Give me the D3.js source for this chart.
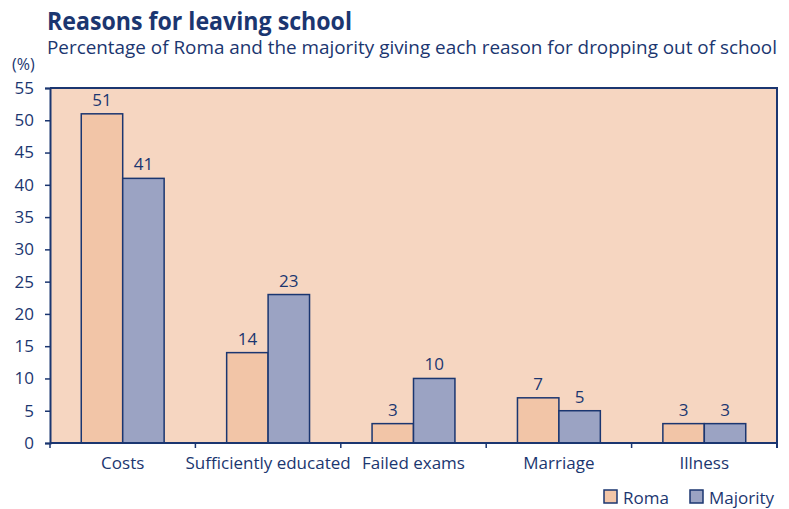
<!DOCTYPE html>
<html>
<head>
<meta charset="utf-8">
<script src="https://cdn.jsdelivr.net/npm/d3@7"></script>
<style>
  html, body { margin: 0; padding: 0; background: #ffffff; }
  svg { display: block; }
  text { font-family: "Open Sans", "Noto Sans", sans-serif; fill: #1b3670; }
</style>
</head>
<body>
<svg id="chart" width="789" height="509"></svg>
<script>
// Reasons for dropping out of school, % giving each reason
const categories = ["Costs", "Sufficiently educated", "Failed exams", "Marriage", "Illness"];
const romaValues = [51, 14, 3, 7, 3];
const majorityValues = [41, 23, 10, 5, 3];
const seriesNames = ["Roma", "Majority"];
const yTicks = [0, 5, 10, 15, 20, 25, 30, 35, 40, 45, 50, 55];

const colors = { Roma: "#f2c5a7", Majority: "#9ba3c3" };
const ink = "#1b3670";

const svg = d3.select("#chart");
const plot = { left: 50, right: 777, top: 88, bottom: 443 };

const x = d3.scaleBand().domain(categories).range([plot.left, plot.right]).padding(0);
const y = d3.scaleLinear().domain([0, 55]).range([plot.bottom, plot.top]);

// Plot background
svg.append("rect")
  .attr("x", plot.left).attr("y", plot.top)
  .attr("width", plot.right - plot.left).attr("height", plot.bottom - plot.top)
  .attr("fill", "#f6d6c1");

// Title and subtitle
svg.append("text").attr("x", 47).attr("y", 30)
  .attr("font-size", 25).attr("font-weight", 700)
  .attr("textLength", 305).attr("lengthAdjust", "spacingAndGlyphs")
  .text("Reasons for leaving school");
svg.append("text").attr("x", 47).attr("y", 54)
  .attr("font-size", 19)
  .attr("textLength", 730).attr("lengthAdjust", "spacingAndGlyphs")
  .text("Percentage of Roma and the majority giving each reason for dropping out of school");
svg.append("text").attr("x", 12).attr("y", 70).attr("font-size", 16).text("(%)");

// Bars
const barW = x.bandwidth() * 0.285;
const rows = categories.map((c, i) => ({ c, vals: [romaValues[i], majorityValues[i]] }));
const groups = svg.append("g").selectAll("g").data(rows).join("g")
  .attr("transform", d => `translate(${x(d.c) + x.bandwidth() / 2},0)`);
groups.selectAll("rect").data(d => d.vals.map((v, j) => ({ v, s: seriesNames[j], j })))
  .join("rect")
  .attr("x", d => d.j === 0 ? -barW : 0)
  .attr("y", d => y(d.v))
  .attr("width", barW)
  .attr("height", d => y(0) - y(d.v))
  .attr("fill", d => colors[d.s])
  .attr("stroke", ink).attr("stroke-width", 1.5);
groups.selectAll("text.val").data(d => d.vals.map((v, j) => ({ v, j })))
  .join("text").attr("class", "val")
  .attr("x", d => d.j === 0 ? -barW / 2 : barW / 2)
  .attr("y", d => y(d.v) - 8)
  .attr("text-anchor", "middle").attr("font-size", 17)
  .text(d => d.v);

// Frame: top and right edges
svg.append("path")
  .attr("d", `M${plot.left},${plot.top}H${plot.right}V${plot.bottom + 5}`)
  .attr("fill", "none").attr("stroke", ink).attr("stroke-width", 2);

// Y axis
const yAxis = svg.append("g").attr("transform", `translate(${plot.left},0)`)
  .call(d3.axisLeft(y).tickValues(yTicks).tickSize(5).tickPadding(11));
yAxis.select(".domain").attr("stroke", ink).attr("stroke-width", 2);
yAxis.selectAll(".tick line").attr("stroke", ink).attr("stroke-width", 1.5);
yAxis.selectAll(".tick text").attr("font-size", 17).attr("fill", ink)
  .attr("font-family", "'Open Sans', sans-serif");

// X axis: ticks at category boundaries
const bounds = categories.map(c => x(c)).concat([plot.right]);
svg.append("line").attr("x1", plot.left).attr("x2", plot.right)
  .attr("y1", plot.bottom).attr("y2", plot.bottom)
  .attr("stroke", ink).attr("stroke-width", 2);
svg.append("g").selectAll("line").data(bounds).join("line")
  .attr("x1", d => d).attr("x2", d => d)
  .attr("y1", plot.bottom).attr("y2", plot.bottom + 5)
  .attr("stroke", ink).attr("stroke-width", 1.5);
svg.append("g").selectAll("text").data(categories).join("text")
  .attr("x", d => x(d) + x.bandwidth() / 2)
  .attr("y", 469)
  .attr("text-anchor", "middle").attr("font-size", 17)
  .text(d => d);

// Legend
const legend = svg.append("g");
const legendItems = [{ s: "Roma", x: 604 }, { s: "Majority", x: 690 }];
legend.selectAll("rect").data(legendItems).join("rect")
  .attr("x", d => d.x).attr("y", 490).attr("width", 13).attr("height", 13)
  .attr("fill", d => colors[d.s]).attr("stroke", ink).attr("stroke-width", 1.5);
legend.selectAll("text").data(legendItems).join("text")
  .attr("x", d => d.x + 19).attr("y", 504).attr("font-size", 17)
  .text(d => d.s);
</script>
</body>
</html>
